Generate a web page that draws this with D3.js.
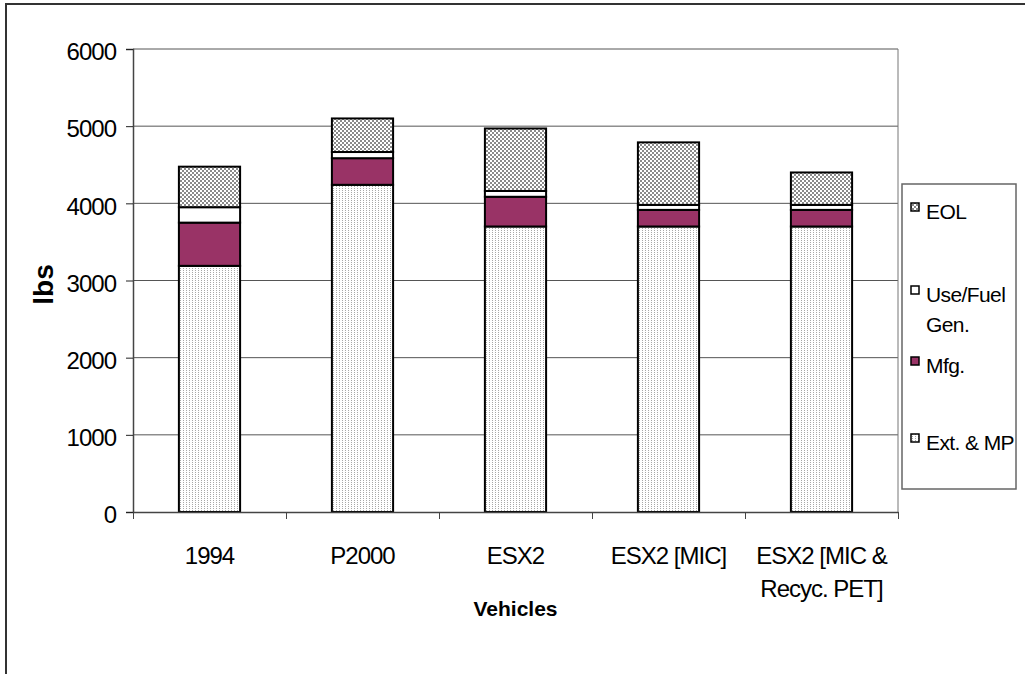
<!DOCTYPE html>
<html>
<head>
<meta charset="utf-8">
<script src="https://cdn.jsdelivr.net/npm/d3@7"></script>
<style>
  html, body { margin: 0; padding: 0; background: #fff; }
  svg { display: block; font-family: "Liberation Sans", Arial, sans-serif; }
</style>
</head>
<body>
<svg id="chart" width="1025" height="674"></svg>
<script>
// Vehicle life-cycle totals (lbs), stacked by stage
const vehicles = ["1994", "P2000", "ESX2", "ESX2 [MIC]", "ESX2 [MIC & Recyc. PET]"];
const vehicleLines = [["1994"], ["P2000"], ["ESX2"], ["ESX2 [MIC]"], ["ESX2 [MIC &", "Recyc. PET]"]];
const stages = ["Ext. & MP", "Mfg.", "Use/Fuel Gen.", "EOL"];
const extMP   = [3190, 4240, 3700, 3700, 3700];
const mfg     = [560, 345, 385, 215, 215];
const useFuel = [200, 80, 75, 65, 65];
const eol     = [525, 435, 810, 810, 420];
const yTicks  = [0, 1000, 2000, 3000, 4000, 5000, 6000];
const legendLabels = [["EOL"], ["Use/Fuel", "Gen."], ["Mfg."], ["Ext. & MP"]];

const rows = vehicles.map((v, i) => ({
  vehicle: v,
  "Ext. & MP": extMP[i],
  "Mfg.": mfg[i],
  "Use/Fuel Gen.": useFuel[i],
  "EOL": eol[i]
}));

const svg = d3.select("#chart");
const plot = { left: 133, right: 898, top: 49, bottom: 512 };
const FONT = "Liberation Sans, Arial, sans-serif";

// fill patterns for the stages
const defs = svg.append("defs");
const dots = defs.append("pattern").attr("id", "pat-ext")
  .attr("width", 3).attr("height", 2).attr("patternUnits", "userSpaceOnUse");
dots.append("rect").attr("width", 3).attr("height", 2).attr("fill", "#fff");
dots.append("rect").attr("width", 1).attr("height", 1).attr("fill", "#a8a8a8");

const check = defs.append("pattern").attr("id", "pat-eol")
  .attr("width", 4).attr("height", 4).attr("patternUnits", "userSpaceOnUse");
check.append("rect").attr("width", 4).attr("height", 4).attr("fill", "#fff");
check.append("rect").attr("x", 0).attr("y", 0).attr("width", 2).attr("height", 2).attr("fill", "#8a8a8a");
check.append("rect").attr("x", 2).attr("y", 2).attr("width", 2).attr("height", 2).attr("fill", "#8a8a8a");

const fills = {
  "Ext. & MP": "url(#pat-ext)",
  "Mfg.": "#993366",
  "Use/Fuel Gen.": "#ffffff",
  "EOL": "url(#pat-eol)"
};

// outer frame (top and left edges)
svg.append("path")
  .attr("d", "M6,674 L6,4 L1025,4")
  .attr("fill", "none").attr("stroke", "#333").attr("stroke-width", 2);

const x = d3.scaleBand().domain(vehicles)
  .range([plot.left, plot.right]).paddingInner(0.6).paddingOuter(0.3);
const xEdge = d3.scaleLinear().domain([0, vehicles.length]).range([plot.left, plot.right]);
const y = d3.scaleLinear().domain([0, 6000]).range([plot.bottom, plot.top]);

// horizontal gridlines
svg.append("g").selectAll("line").data(yTicks.filter(d => d > 0)).join("line")
  .attr("x1", plot.left).attr("x2", plot.right)
  .attr("y1", d => y(d)).attr("y2", d => y(d))
  .attr("stroke", "#555").attr("stroke-width", 1);

// plot area right edge
svg.append("line")
  .attr("x1", plot.right).attr("x2", plot.right)
  .attr("y1", plot.top).attr("y2", plot.bottom)
  .attr("stroke", "#777").attr("stroke-width", 1);

// stacked bars
const stacked = d3.stack().keys(stages)(rows);
svg.append("g").selectAll("g").data(stacked).join("g")
  .attr("fill", d => fills[d.key])
  .selectAll("rect").data(d => d).join("rect")
  .attr("x", d => x(d.data.vehicle))
  .attr("width", x.bandwidth())
  .attr("y", d => y(d[1]))
  .attr("height", d => y(d[0]) - y(d[1]))
  .attr("stroke", "#000").attr("stroke-width", 2);

// y axis
const yAxis = svg.append("g").attr("transform", `translate(${plot.left},0)`)
  .call(d3.axisLeft(y).tickValues(yTicks).tickSize(7).tickPadding(10).tickFormat(d3.format("d")));
yAxis.select(".domain").attr("stroke", "#444").attr("stroke-width", 1.5);
yAxis.selectAll(".tick line").attr("stroke", "#222");
yAxis.selectAll("text").attr("font-size", 24).attr("letter-spacing", -1).attr("fill", "#000")
  .attr("font-family", FONT).attr("dy", "0.45em");

// x axis with ticks at category boundaries
const xAxis = svg.append("g").attr("transform", `translate(0,${plot.bottom})`)
  .call(d3.axisBottom(xEdge).tickValues(d3.range(vehicles.length + 1)).tickSize(7).tickSizeOuter(0).tickFormat(""));
xAxis.select(".domain").attr("stroke", "#444").attr("stroke-width", 1.5);
xAxis.selectAll(".tick line").attr("stroke", "#444");

// category labels
const catLabels = svg.append("g");
vehicles.forEach((v, i) => {
  const cx = x(v) + x.bandwidth() / 2;
  const t = catLabels.append("text")
    .attr("x", cx).attr("y", 564)
    .attr("text-anchor", "middle")
    .attr("font-size", 24).attr("letter-spacing", -1).attr("fill", "#000");
  vehicleLines[i].forEach((line, j) => {
    t.append("tspan").attr("x", cx).attr("dy", j === 0 ? 0 : 33).text(line);
  });
});

// axis titles
svg.append("text")
  .attr("x", (plot.left + plot.right) / 2).attr("y", 616)
  .attr("text-anchor", "middle").attr("font-size", 21).attr("font-weight", "bold")
  .text("Vehicles");
svg.append("text")
  .attr("transform", `translate(53,${(plot.top + plot.bottom) / 2 + 4}) rotate(-90)`)
  .attr("text-anchor", "middle").attr("font-size", 28).attr("font-weight", "bold")
  .text("lbs");

// legend
const legend = svg.append("g");
legend.append("rect")
  .attr("x", 902).attr("y", 184).attr("width", 114).attr("height", 305)
  .attr("fill", "#fff").attr("stroke", "#666").attr("stroke-width", 1.5);
const legendKeys = stages.slice().reverse();
const legendY = [207, 290, 361, 438];
legendKeys.forEach((k, i) => {
  legend.append("rect")
    .attr("x", 911).attr("y", legendY[i] - 4).attr("width", 8).attr("height", 8)
    .attr("fill", fills[k]).attr("stroke", "#000").attr("stroke-width", 1.5);
  const t = legend.append("text")
    .attr("x", 926).attr("y", legendY[i] + 12)
    .attr("font-size", 21).attr("letter-spacing", -0.6).attr("fill", "#000");
  legendLabels[i].forEach((line, j) => {
    t.append("tspan").attr("x", 926).attr("dy", j === 0 ? 0 : 30).text(line);
  });
});
</script>
</body>
</html>
